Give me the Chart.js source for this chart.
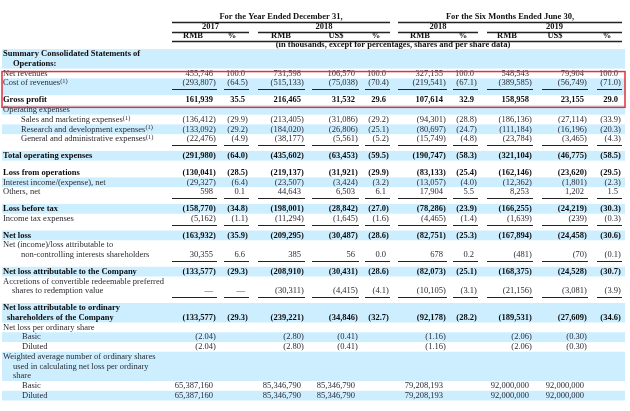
<!DOCTYPE html>
<html>
<head>
<meta charset="utf-8">
<script src="https://cdn.jsdelivr.net/npm/chart.js@4/dist/chart.umd.min.js"></script>
<style>
  html, body { margin: 0; padding: 0; background: #fff; }
  canvas { display: block; }
</style>
</head>
<body>
<canvas id="table" width="630" height="411"></canvas>
<script>
const N = null;
const D = "\u2014";

// header texts
const periods = ["For the Year Ended December 31,", "For the Six Months Ended June 30,"];
const years = ["2017", "2018", "2018", "2019"];
const units = ["RMB", "%", "RMB", "US$", "%", "RMB", "%", "RMB", "US$", "%"];
const unitNote = "(in thousands, except for percentages, shares and per share data)";

// row labels (\n = next line of the same row)
const rowLabels = [
  "Summary Consolidated Statements of\nOperations:",
  "Net revenues",
  "Cost of revenues(1)",
  "Gross profit",
  "Operating expenses",
  "Sales and marketing expenses(1)",
  "Research and development expenses(1)",
  "General and administrative expenses(1)",
  "Total operating expenses",
  "Loss from operations",
  "Interest income/(expense), net",
  "Others, net",
  "Loss before tax",
  "Income tax expenses",
  "Net loss",
  "Net (income)/loss attributable to\nnon-controlling interests shareholders",
  "Net loss attributable to the Company",
  "Accretions of convertible redeemable preferred\nshares to redemption value",
  "Net loss attributable to ordinary\nshareholders of the Company",
  "Net loss per ordinary share",
  "Basic",
  "Diluted",
  "Weighted average number of ordinary shares\nused in calculating net loss per ordinary\nshare",
  "Basic",
  "Diluted",
];

// values per column, one entry per row
const rmb2017 = [N, 455746, -293807, 161939, N, -136412, -133092, -22476, -291980, -130041, -29327, 598, -158770, -5162, -163932, 30355, -133577, D, -133577, N, -2.04, -2.04, N, 65387160, 65387160];
const pct2017 = [N, 100.0, -64.5, 35.5, N, -29.9, -29.2, -4.9, -64.0, -28.5, -6.4, 0.1, -34.8, -1.1, -35.9, 6.6, -29.3, D, -29.3, N, N, N, N, N, N];
const rmb2018 = [N, 731598, -515133, 216465, N, -213405, -184020, -38177, -435602, -219137, -23507, 44643, -198001, -11294, -209295, 385, -208910, -30311, -239221, N, -2.8, -2.8, N, 85346790, 85346790];
const usd2018 = [N, 106570, -75038, 31532, N, -31086, -26806, -5561, -63453, -31921, -3424, 6503, -28842, -1645, -30487, 56, -30431, -4415, -34846, N, -0.41, -0.41, N, 85346790, 85346790];
const pct2018 = [N, 100.0, -70.4, 29.6, N, -29.2, -25.1, -5.2, -59.5, -29.9, -3.2, 6.1, -27.0, -1.6, -28.6, 0.0, -28.6, -4.1, -32.7, N, N, N, N, N, N];
const rmbH2018 = [N, 327155, -219541, 107614, N, -94301, -80697, -15749, -190747, -83133, -13057, 17904, -78286, -4465, -82751, 678, -82073, -10105, -92178, N, -1.16, -1.16, N, 79208193, 79208193];
const pctH2018 = [N, 100.0, -67.1, 32.9, N, -28.8, -24.7, -4.8, -58.3, -25.4, -4.0, 5.5, -23.9, -1.4, -25.3, 0.2, -25.1, -3.1, -28.2, N, N, N, N, N, N];
const rmbH2019 = [N, 548543, -389585, 158958, N, -186136, -111184, -23784, -321104, -162146, -12362, 8253, -166255, -1639, -167894, -481, -168375, -21156, -189531, N, -2.06, -2.06, N, 92000000, 92000000];
const usdH2019 = [N, 79904, -56749, 23155, N, -27114, -16196, -3465, -46775, -23620, -1801, 1202, -24219, -239, -24458, -70, -24528, -3081, -27609, N, -0.3, -0.3, N, 92000000, 92000000];
const pctH2019 = [N, 100.0, -71.0, 29.0, N, -33.9, -20.3, -4.3, -58.5, -29.5, -2.3, 1.5, -30.3, -0.3, -30.6, -0.1, -30.7, -3.9, -34.6, N, N, N, N, N, N];

const columns = [rmb2017, pct2017, rmb2018, usd2018, pct2018, rmbH2018, pctH2018, rmbH2019, usdH2019, pctH2019];

// ---- layout / style ----
const pctCols = [1, 4, 6, 9];
const perShareRows = [20, 21];
const boldRows = [0, 3, 8, 9, 12, 14, 16, 18];
const underlineRows = [2, 7, 11, 13, 15, 17];
const gapAfterRows = [8];
const highlightRows = [1, 3]; // red box from .. to
const indents = { 0: [0, 10], 5: [18], 6: [18], 7: [18], 15: [0, 18], 17: [0, 9], 18: [0, 4], 20: [19], 21: [19], 22: [0, 10, 10], 23: [19], 24: [19] };

const colLeft = [172, 224, 258, 312, 365, 398, 453, 487, 542, 597];
const colRight = [213, 245, 301, 355, 386, 443, 474, 529, 584, 618];
const unitCenter = [193, 232, 281, 336, 376, 420, 463, 507, 555, 607];
const periodSpan = [[0, 4], [5, 9]];
const yearSpan = [[0, 1], [2, 4], [5, 6], [7, 9]];

const LINE_PX = 9.75;
const FIRST_LINE_PX = 54;
const SPACER = 0.72;
const FONT = "'Liberation Serif', 'Times New Roman', serif";
const FS = 8.5;
const BAND = "#cceeff";

// line position of every row (in line units)
const rowLines = [];
let cursor = 0;
rowLabels.forEach((lab, r) => {
  const n = lab.split("\n").length;
  const lines = [];
  for (let i = 0; i < n; i++) lines.push(cursor + i);
  rowLines.push(lines);
  cursor += n;
  if (underlineRows.includes(r) || gapAfterRows.includes(r)) cursor += SPACER;
});
const rowY = rowLines.map((l) => l[l.length - 1]);

function fmt(v, c, r) {
  if (v === D) return v;
  const neg = v < 0;
  const a = Math.abs(v);
  let s;
  if (pctCols.includes(c)) s = a.toFixed(1);
  else if (perShareRows.includes(r)) s = a.toFixed(2);
  else s = a.toLocaleString("en-US");
  return neg ? "(" + s + ")" : s;
}

const datasets = columns.map((col, c) => ({
  label: units[c],
  data: col
    .map((v, r) => (v === N ? null : { x: colRight[c], y: rowY[r], r, v }))
    .filter((p) => p),
  pointRadius: 0,
  showLine: false,
}));

const tablePlugin = {
  id: "tablePlugin",
  beforeDatasetsDraw(chart) {
    const { ctx, scales } = chart;
    const xs = scales.x, ys = scales.y;
    ctx.save();
    ctx.fillStyle = BAND;
    rowLines.forEach((lines, r) => {
      if (r % 2 !== 0) return;
      const top = lines[0] - 0.5;
      let bottom = lines[lines.length - 1] + 0.5;
      if (underlineRows.includes(r)) bottom += SPACER;
      const y0 = ys.getPixelForValue(top), y1 = ys.getPixelForValue(bottom);
      ctx.fillRect(xs.getPixelForValue(2), y0, xs.getPixelForValue(625) - xs.getPixelForValue(2), y1 - y0);
    });
    ctx.restore();
  },
  afterDatasetsDraw(chart) {
    const { ctx, scales } = chart;
    const xs = scales.x, ys = scales.y;
    const X = (v) => xs.getPixelForValue(v);
    const Y = (v) => ys.getPixelForValue(v);
    ctx.save();
    ctx.textBaseline = "middle";

    const hline = (x0, x1, y, w) => {
      ctx.strokeStyle = "#222";
      ctx.lineWidth = w || 1;
      ctx.beginPath();
      ctx.moveTo(X(x0), Math.round(Y(y)) + 0.5);
      ctx.lineTo(X(x1), Math.round(Y(y)) + 0.5);
      ctx.stroke();
    };

    // header
    ctx.fillStyle = "#111";
    ctx.font = "bold " + FS + "px " + FONT;
    ctx.textAlign = "center";
    periodSpan.forEach(([a, b], i) => {
      const l = colLeft[a], rr = colRight[b] + 4;
      ctx.fillText(periods[i], X((l + rr) / 2), Y(-3.79));
      hline(l, rr, -3.28, 1.3);
    });
    yearSpan.forEach(([a, b], i) => {
      const l = colLeft[a], rr = colRight[b] + 4;
      ctx.fillText(years[i], X((l + rr) / 2), Y(-2.77));
      hline(l, rr, -2.3, 1.3);
    });
    units.forEach((u, c) => ctx.fillText(u, X(unitCenter[c]), Y(-1.85)));
    hline(colLeft[0], colRight[9] + 4, -1.33, 1.3);
    ctx.fillText(unitNote, X(393), Y(-0.92));

    // row labels
    ctx.textAlign = "left";
    rowLabels.forEach((lab, r) => {
      const bold = boldRows.includes(r);
      lab.split("\n").forEach((txt, i) => {
        const ind = (indents[r] || [0])[i] || 0;
        const x = X(3 + ind), y = Y(rowLines[r][i]);
        ctx.fillStyle = bold ? "#0d0d0d" : "#2b2b33";
        ctx.font = (bold ? "bold " : "") + FS + "px " + FONT;
        let main = txt, sup = "";
        if (txt.endsWith("(1)")) { main = txt.slice(0, -3); sup = "(1)"; }
        ctx.fillText(main, x, y);
        if (sup) {
          const w = ctx.measureText(main).width;
          ctx.font = "6.5px " + FONT;
          ctx.fillText(sup, x + w, y - 1.5);
        }
      });
    });

    // cell values at the points placed by the scales
    chart.data.datasets.forEach((ds, c) => {
      const meta = chart.getDatasetMeta(c);
      meta.data.forEach((pt, i) => {
        const { r, v } = ds.data[i];
        const bold = boldRows.includes(r);
        ctx.fillStyle = bold ? "#0d0d0d" : "#2b2b33";
        ctx.font = (bold ? "bold " : "") + FS + "px " + FONT;
        const s = fmt(v, c, r);
        if (s.endsWith(")")) {
          ctx.textAlign = "right";
          ctx.fillText(s.slice(0, -1), pt.x, pt.y);
          ctx.textAlign = "left";
          ctx.fillText(")", pt.x, pt.y);
        } else {
          ctx.textAlign = "right";
          ctx.fillText(s, pt.x, pt.y);
        }
      });
    });

    // underlines below subtotal inputs
    underlineRows.forEach((r) => {
      colLeft.forEach((l, c) => hline(l, colRight[c] + 4, rowY[r] + 0.62, 1));
    });

    // red highlight box
    const [ra, rb] = highlightRows;
    ctx.strokeStyle = "#e2323a";
    ctx.lineWidth = 1.5;
    const top = Y(rowY[ra] - 0.2), bot = Y(rowY[rb] + 0.75);
    ctx.strokeRect(X(2), top, X(625) - X(2), bot - top);
    ctx.restore();
  },
};

const yMin = -FIRST_LINE_PX / LINE_PX;
new Chart(document.getElementById("table"), {
  type: "scatter",
  data: { datasets },
  options: {
    responsive: false,
    animation: false,
    devicePixelRatio: 1,
    layout: { padding: 0 },
    plugins: { legend: { display: false }, tooltip: { enabled: false } },
    scales: {
      x: { type: "linear", min: 0, max: 630, display: false },
      y: { type: "linear", reverse: true, min: yMin, max: yMin + 411 / LINE_PX, display: false },
    },
  },
  plugins: [tablePlugin],
});
</script>
</body>
</html>
